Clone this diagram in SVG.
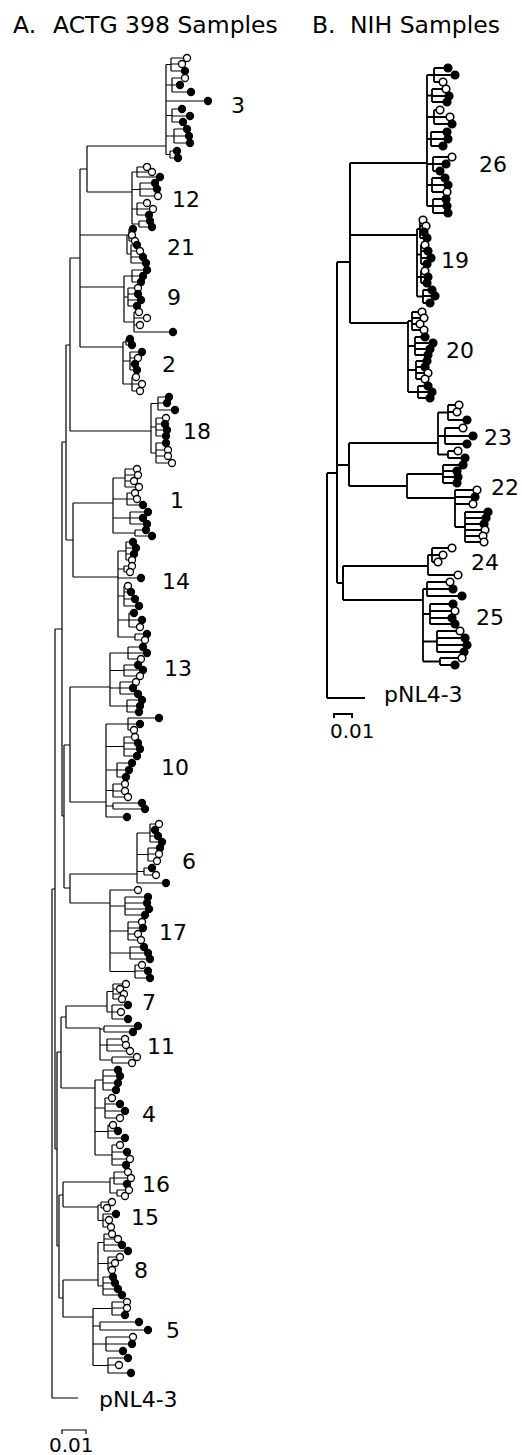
<svg xmlns="http://www.w3.org/2000/svg" xmlns:xlink="http://www.w3.org/1999/xlink" width="522" height="1455" viewBox="0 0 522 1455">
<style>
.ln{fill:none;stroke:#000;stroke-width:1.2}
.lb2{fill:none;stroke:#000;stroke-width:2}
.lnB{fill:none;stroke:#000;stroke-width:1.8}
text{font-family:"DejaVu Sans","Liberation Sans",sans-serif;fill:#000}
.lb{font-size:22px}
.tt{font-size:23.5px}
</style>
<defs>
<circle id="o" r="3.5" fill="#fff" stroke="#000" stroke-width="1.3"/>
<circle id="f" r="3.5" fill="#000" stroke="#000" stroke-width="1.3"/>
<circle id="O" r="3.8" fill="#fff" stroke="#000" stroke-width="1.6"/>
<circle id="F" r="3.8" fill="#000" stroke="#000" stroke-width="1.6"/>
</defs>
<rect width="522" height="1455" fill="#fff"/>
<g id="titles">
<text class="tt" x="13" y="33">A.</text><text class="tt" x="53" y="33">ACTG 398 Samples</text>
<text class="tt" x="312" y="33">B.</text><text class="tt" x="350" y="33">NIH Samples</text>
</g>
<g id="connectors">
<path class="ln" d="M87 146V192 M87 146H166 M87 192H132 M80 169H87 M80 169V347 M80 235H127 M80 287H124 M80 347H123 M70 258V431 M70 258H80 M70 431H151 M66 345V540 M66 345H70 M73 503V577 M66 540H73 M73 503H113 M73 577H118 M62 442V816 M62 442H66 M70 687V802 M70 687H110 M70 802H106 M64 745H70 M70 874V903 M70 874H137 M70 903H110 M64 888H70 M64 745V888 M62 816H64 M66 1006V1028 M66 1006H107 M66 1028H100 M61 1017H66 M61 1017V1088 M61 1088H95 M63 1182V1207 M63 1182H110 M63 1207H98 M59 1195H63 M63 1280V1317 M63 1280H98 M63 1317H93 M59 1298H63 M59 1195V1298 M57 1246H59 M57 1052V1246 M57 1052H61 M55 629V1149 M55 629H62 M55 1149H57 M52 889V1398 M52 889H55 M52 1398H78"/>
<path class="lb2" d="M350 163V323 M350 163H427 M350 235H417 M350 323H408 M337 262V583 M337 262H350 M349 443V486 M349 443H438 M349 486H407 M337 465H349 M343 566V600 M343 566H428 M343 600H423 M337 583H343 M327 473V698 M327 473H337 M327 698H365"/>
</g>
<g id="cA3"><path class="ln" d="M166 64.5V154.5 M166 64.5H171 M171 58V71 M171 58H187 M171 64H182 M171 71H185 M166 85H172 M172 78V92 M172 78H185 M172 85H180 M172 92H191 M166 101H208 M166 115.5H172 M172 109V122 M172 109H182 M172 116H190 M172 122H183 M166 136H174 M174 129V143 M174 129H187 M174 136H189 M174 143H190 M166 154.5H170 M170 151V158 M170 151H177 M170 158H178"/>
<use href="#o" x="187" y="58"/><use href="#o" x="182" y="64"/><use href="#f" x="185" y="71"/><use href="#o" x="185" y="78"/><use href="#f" x="180" y="85"/><use href="#f" x="191" y="92"/><use href="#f" x="208" y="101"/><use href="#f" x="182" y="109"/><use href="#f" x="190" y="116"/><use href="#f" x="183" y="122"/><use href="#f" x="187" y="129"/><use href="#f" x="189" y="136"/><use href="#f" x="190" y="143"/><use href="#f" x="177" y="151"/><use href="#f" x="178" y="158"/>
<text class="lb" x="231" y="113">3</text></g>
<g id="cA12"><path class="ln" d="M132 172V224 M132 172H137 M137 167V177 M137 167H147 M137 172H152 M137 177H160 M132 189.5H140 M140 183V196 M140 183H155 M140 189H157 M140 196H158 M132 209H137 M137 203V215 M137 203H147 M137 209H153 M137 215H149 M132 224H139 M139 221V227 M139 221H150 M139 227H152"/>
<use href="#o" x="147" y="167"/><use href="#o" x="152" y="172"/><use href="#f" x="160" y="177"/><use href="#f" x="155" y="183"/><use href="#f" x="157" y="189"/><use href="#o" x="158" y="196"/><use href="#o" x="147" y="203"/><use href="#o" x="153" y="209"/><use href="#f" x="149" y="215"/><use href="#f" x="150" y="221"/><use href="#f" x="152" y="227"/>
<text class="lb" x="172" y="207">12</text></g>
<g id="cA21"><path class="ln" d="M127 235V254 M127 235H129 M129 229V241 M129 229H133 M129 235H132 M129 241H135 M127 254H131 M131 245V263 M131 245H137 M131 251H140 M131 257H143 M131 263H146"/>
<use href="#f" x="133" y="229"/><use href="#o" x="132" y="235"/><use href="#o" x="135" y="241"/><use href="#f" x="137" y="245"/><use href="#o" x="140" y="251"/><use href="#f" x="143" y="257"/><use href="#f" x="146" y="263"/>
<text class="lb" x="167" y="255">21</text></g>
<g id="cA9"><path class="ln" d="M124 276V322 M124 276H132 M132 270V282 M132 270H147 M132 276H143 M132 282H141 M124 297H128 M128 288V306 M128 288H138 M128 294H138 M128 300H141 M128 306H137 M124 322H134 M134 312V332 M134 312H139 M134 318H147 M134 325H140 M134 332H173"/>
<use href="#f" x="147" y="270"/><use href="#f" x="143" y="276"/><use href="#f" x="141" y="282"/><use href="#o" x="138" y="288"/><use href="#f" x="138" y="294"/><use href="#f" x="141" y="300"/><use href="#f" x="137" y="306"/><use href="#o" x="139" y="312"/><use href="#o" x="147" y="318"/><use href="#o" x="140" y="325"/><use href="#f" x="173" y="332"/>
<text class="lb" x="167" y="305">9</text></g>
<g id="cA2"><path class="ln" d="M123 342V384 M123 342H126 M126 339V345 M126 339H130 M126 345H132 M123 361H130 M130 352V370 M130 352H142 M130 358H138 M130 364H135 M130 370H137 M123 384H132 M132 377V391 M132 377H136 M132 384H142 M132 391H140"/>
<use href="#f" x="130" y="339"/><use href="#f" x="132" y="345"/><use href="#f" x="142" y="352"/><use href="#o" x="138" y="358"/><use href="#f" x="135" y="364"/><use href="#f" x="137" y="370"/><use href="#o" x="136" y="377"/><use href="#o" x="142" y="384"/><use href="#o" x="140" y="391"/>
<text class="lb" x="162" y="372">2</text></g>
<g id="cA18"><path class="ln" d="M151 403.5V453 M151 403.5H158 M158 397V410 M158 397H169 M158 403H167 M158 410H175 M151 427H156 M156 418V436 M156 418H166 M156 424H165 M156 430H167 M156 436H166 M151 453H156 M156 443V463 M156 443H166 M156 450H168 M156 456H168 M156 463H172"/>
<use href="#f" x="169" y="397"/><use href="#f" x="167" y="403"/><use href="#f" x="175" y="410"/><use href="#o" x="166" y="418"/><use href="#f" x="165" y="424"/><use href="#f" x="167" y="430"/><use href="#f" x="166" y="436"/><use href="#f" x="166" y="443"/><use href="#o" x="168" y="450"/><use href="#o" x="168" y="456"/><use href="#o" x="172" y="463"/>
<text class="lb" x="183" y="439">18</text></g>
<g id="cA1"><path class="ln" d="M113 478V533 M113 478H125 M125 469V487 M125 469H137 M125 475H138 M125 481H134 M125 487H139 M113 499H127 M127 493V505 M127 493H135 M127 499H137 M127 505H143 M113 518H130 M130 512V524 M130 512H148 M130 518H143 M130 524H147 M113 533H135 M135 530V536 M135 530H146 M135 536H152"/>
<use href="#o" x="137" y="469"/><use href="#o" x="138" y="475"/><use href="#o" x="134" y="481"/><use href="#o" x="139" y="487"/><use href="#o" x="135" y="493"/><use href="#o" x="137" y="499"/><use href="#f" x="143" y="505"/><use href="#f" x="148" y="512"/><use href="#f" x="143" y="518"/><use href="#f" x="147" y="524"/><use href="#f" x="146" y="530"/><use href="#f" x="152" y="536"/>
<text class="lb" x="170" y="508">1</text></g>
<g id="cA14"><path class="ln" d="M118 551V637 M118 551H126 M126 542V560 M126 542H133 M126 548H136 M126 554H134 M126 560H132 M118 569H124 M124 566V572 M124 566H132 M124 572H130 M118 578H141 M118 596H124 M124 586V606 M124 586H128 M124 592H131 M124 599H135 M124 606H139 M118 620H129 M129 613V627 M129 613H134 M129 620H142 M129 627H140 M118 637H135 M135 634V640 M135 634H147 M135 640H145"/>
<use href="#f" x="133" y="542"/><use href="#f" x="136" y="548"/><use href="#f" x="134" y="554"/><use href="#o" x="132" y="560"/><use href="#o" x="132" y="566"/><use href="#o" x="130" y="572"/><use href="#f" x="141" y="578"/><use href="#o" x="128" y="586"/><use href="#f" x="131" y="592"/><use href="#f" x="135" y="599"/><use href="#f" x="139" y="606"/><use href="#f" x="134" y="613"/><use href="#f" x="142" y="620"/><use href="#o" x="140" y="627"/><use href="#f" x="147" y="634"/><use href="#o" x="145" y="640"/>
<text class="lb" x="162" y="589">14</text></g>
<g id="cA13"><path class="ln" d="M110 653V706 M110 653H128 M128 647V659 M128 647H143 M128 653H147 M128 659H141 M110 670.5H124 M124 665V676 M124 665H138 M124 670H143 M124 676H140 M110 688H120 M120 682V694 M120 682H136 M120 688H133 M120 694H138 M110 706H127 M127 700V712 M127 700H142 M127 706H140 M127 712H139"/>
<use href="#f" x="143" y="647"/><use href="#f" x="147" y="653"/><use href="#o" x="141" y="659"/><use href="#f" x="138" y="665"/><use href="#f" x="143" y="670"/><use href="#o" x="140" y="676"/><use href="#o" x="136" y="682"/><use href="#f" x="133" y="688"/><use href="#f" x="138" y="694"/><use href="#f" x="142" y="700"/><use href="#f" x="140" y="706"/><use href="#f" x="139" y="712"/>
<text class="lb" x="164" y="676">13</text></g>
<g id="cA10"><path class="ln" d="M106 724V817 M106 724H128 M128 718V730 M128 718H159 M128 724H140 M128 730H134 M106 746.5H124 M124 737V756 M124 737H135 M124 743H138 M124 749H140 M124 756H137 M106 770H117 M117 763V777 M117 763H132 M117 770H129 M117 777H126 M106 790.5H113 M113 784V797 M113 784H125 M113 791H125 M113 797H128 M106 806H113 M113 803V809 M113 803H142 M113 809H145 M106 817H127"/>
<use href="#f" x="159" y="718"/><use href="#f" x="140" y="724"/><use href="#o" x="134" y="730"/><use href="#o" x="135" y="737"/><use href="#f" x="138" y="743"/><use href="#f" x="140" y="749"/><use href="#f" x="137" y="756"/><use href="#f" x="132" y="763"/><use href="#f" x="129" y="770"/><use href="#f" x="126" y="777"/><use href="#o" x="125" y="784"/><use href="#o" x="125" y="791"/><use href="#o" x="128" y="797"/><use href="#f" x="142" y="803"/><use href="#f" x="145" y="809"/><use href="#f" x="127" y="817"/>
<text class="lb" x="161" y="775">10</text></g>
<g id="cA6"><path class="ln" d="M137 833V883 M137 833H150 M150 824V842 M150 824H159 M150 830H155 M150 836H158 M150 842H162 M137 854.5H148 M148 848V861 M148 848H160 M148 854H159 M148 861H157 M137 871.5H144 M144 868V875 M144 868H152 M144 875H156 M137 883H166"/>
<use href="#o" x="159" y="824"/><use href="#f" x="155" y="830"/><use href="#f" x="158" y="836"/><use href="#f" x="162" y="842"/><use href="#f" x="160" y="848"/><use href="#o" x="159" y="854"/><use href="#o" x="157" y="861"/><use href="#f" x="152" y="868"/><use href="#o" x="156" y="875"/><use href="#f" x="166" y="883"/>
<text class="lb" x="182" y="869">6</text></g>
<g id="cA17"><path class="ln" d="M110 890V971.5 M110 890H138 M110 906H125 M125 897V915 M125 897H148 M125 903H147 M125 909H149 M125 915H145 M110 931H128 M128 922V940 M128 922H142 M128 928H143 M128 934H138 M128 940H141 M110 953H130 M130 947V959 M130 947H144 M130 953H148 M130 959H150 M110 971.5H135 M135 965V978 M135 965H142 M135 971H148 M135 978H150"/>
<use href="#o" x="138" y="890"/><use href="#f" x="148" y="897"/><use href="#f" x="147" y="903"/><use href="#f" x="149" y="909"/><use href="#f" x="145" y="915"/><use href="#o" x="142" y="922"/><use href="#f" x="143" y="928"/><use href="#o" x="138" y="934"/><use href="#o" x="141" y="940"/><use href="#f" x="144" y="947"/><use href="#f" x="148" y="953"/><use href="#f" x="150" y="959"/><use href="#o" x="142" y="965"/><use href="#f" x="148" y="971"/><use href="#f" x="150" y="978"/>
<text class="lb" x="159" y="940">17</text></g>
<g id="cA7"><path class="ln" d="M107 991.5V1012 M107 991.5H113 M113 984V999 M113 984H126 M113 989H120 M113 994H124 M113 999H122 M107 1012H112 M112 1005V1019 M112 1005H128 M112 1012H121 M112 1019H128"/>
<use href="#o" x="126" y="984"/><use href="#o" x="120" y="989"/><use href="#o" x="124" y="994"/><use href="#o" x="122" y="999"/><use href="#f" x="128" y="1005"/><use href="#o" x="121" y="1012"/><use href="#f" x="128" y="1019"/>
<text class="lb" x="142" y="1010">7</text></g>
<g id="cA11"><path class="ln" d="M100 1028V1060 M100 1029H104 M104 1026V1032 M104 1026H138 M104 1032H133 M100 1045H107 M107 1039V1051 M107 1039H125 M107 1045H126 M107 1051H130 M100 1060H112 M112 1057V1063 M112 1057H137 M112 1063H132"/>
<use href="#f" x="138" y="1026"/><use href="#f" x="133" y="1032"/><use href="#o" x="125" y="1039"/><use href="#o" x="126" y="1045"/><use href="#o" x="130" y="1051"/><use href="#o" x="137" y="1057"/><use href="#o" x="132" y="1063"/>
<text class="lb" x="147" y="1054">11</text></g>
<g id="cA4"><path class="ln" d="M95 1080V1155 M95 1080H103 M103 1070V1090 M103 1070H118 M103 1076H120 M103 1083H118 M103 1090H116 M95 1108H105 M105 1098V1118 M105 1098H112 M105 1104H120 M105 1111H125 M105 1118H120 M95 1131.5H108 M108 1125V1138 M108 1125H113 M108 1131H118 M108 1138H125 M95 1155H112 M112 1145V1165 M112 1145H120 M112 1152H127 M112 1159H130 M112 1165H126"/>
<use href="#f" x="118" y="1070"/><use href="#f" x="120" y="1076"/><use href="#f" x="118" y="1083"/><use href="#f" x="116" y="1090"/><use href="#o" x="112" y="1098"/><use href="#f" x="120" y="1104"/><use href="#f" x="125" y="1111"/><use href="#o" x="120" y="1118"/><use href="#o" x="113" y="1125"/><use href="#f" x="118" y="1131"/><use href="#f" x="125" y="1138"/><use href="#o" x="120" y="1145"/><use href="#f" x="127" y="1152"/><use href="#o" x="130" y="1159"/><use href="#f" x="126" y="1165"/>
<text class="lb" x="142" y="1122">4</text></g>
<g id="cA16"><path class="ln" d="M110 1178V1193 M110 1178H114 M114 1172V1184 M114 1172H128 M114 1178H131 M114 1184H127 M110 1193H117 M117 1190V1196 M117 1190H129 M117 1196H125"/>
<use href="#o" x="128" y="1172"/><use href="#o" x="131" y="1178"/><use href="#f" x="127" y="1184"/><use href="#o" x="129" y="1190"/><use href="#o" x="125" y="1196"/>
<text class="lb" x="142" y="1192">16</text></g>
<g id="cA15"><path class="ln" d="M98 1205V1220.5 M98 1205H101 M101 1202V1208 M101 1202H112 M101 1208H107 M98 1220.5H103 M103 1214V1227 M103 1214H116 M103 1220H109 M103 1227H111"/>
<use href="#o" x="112" y="1202"/><use href="#o" x="107" y="1208"/><use href="#f" x="116" y="1214"/><use href="#o" x="109" y="1220"/><use href="#o" x="111" y="1227"/>
<text class="lb" x="131" y="1225">15</text></g>
<g id="cA8"><path class="ln" d="M98 1242.5V1286 M98 1242.5H104 M104 1234V1251 M104 1234H112 M104 1239H118 M104 1245H122 M104 1251H128 M98 1263.5H108 M108 1257V1270 M108 1257H120 M108 1263H115 M108 1270H112 M98 1286H103 M103 1277V1295 M103 1277H113 M103 1283H115 M103 1289H118 M103 1295H122"/>
<use href="#o" x="112" y="1234"/><use href="#o" x="118" y="1239"/><use href="#f" x="122" y="1245"/><use href="#f" x="128" y="1251"/><use href="#o" x="120" y="1257"/><use href="#o" x="115" y="1263"/><use href="#o" x="112" y="1270"/><use href="#f" x="113" y="1277"/><use href="#f" x="115" y="1283"/><use href="#f" x="118" y="1289"/><use href="#f" x="122" y="1295"/>
<text class="lb" x="134" y="1278">8</text></g>
<g id="cA5"><path class="ln" d="M93 1308.5V1365.5 M93 1308.5H112 M112 1302V1315 M112 1302H127 M112 1308H127 M112 1315H125 M93 1326H100 M100 1322V1330 M100 1322H139 M100 1330H148 M93 1344H106 M106 1337V1351 M106 1337H133 M106 1344H132 M106 1351H123 M93 1365.5H108 M108 1358V1373 M108 1358H128 M108 1365H119 M108 1373H131"/>
<use href="#o" x="127" y="1302"/><use href="#o" x="127" y="1308"/><use href="#f" x="125" y="1315"/><use href="#f" x="139" y="1322"/><use href="#f" x="148" y="1330"/><use href="#o" x="133" y="1337"/><use href="#f" x="132" y="1344"/><use href="#f" x="123" y="1351"/><use href="#f" x="128" y="1358"/><use href="#o" x="119" y="1365"/><use href="#f" x="131" y="1373"/>
<text class="lb" x="166" y="1338">5</text></g>
<g id="outA"><text class="lb" x="99" y="1407">pNL4-3</text></g>
<g id="scaleA"><path class="ln" d="M62 1434V1430H86V1434"/><text class="lb" x="49" y="1452" style="font-size:20px">0.01</text></g>
<g id="cB26"><path class="lnB" d="M427 75V206 M427 75H434 M434 68V82 M434 68H448 M434 75H455 M434 82H443 M427 95.5H432 M432 89V102 M432 89H446 M432 96H449 M432 102H447 M427 117H434 M434 110V124 M434 110H440 M434 117H450 M434 124H452 M427 139H431 M431 132V146 M431 132H447 M431 139H448 M431 146H443 M427 164H433 M433 157V171 M433 157H452 M433 164H446 M433 171H440 M427 185H432 M432 178V192 M432 178H445 M432 185H448 M432 192H447 M427 206H433 M433 199V213 M433 199H446 M433 206H447 M433 213H448"/>
<use href="#F" x="448" y="68"/><use href="#F" x="455" y="75"/><use href="#O" x="443" y="82"/><use href="#O" x="446" y="89"/><use href="#F" x="449" y="96"/><use href="#F" x="447" y="102"/><use href="#O" x="440" y="110"/><use href="#O" x="450" y="117"/><use href="#F" x="452" y="124"/><use href="#F" x="447" y="132"/><use href="#F" x="448" y="139"/><use href="#F" x="443" y="146"/><use href="#O" x="452" y="157"/><use href="#F" x="446" y="164"/><use href="#F" x="440" y="171"/><use href="#F" x="445" y="178"/><use href="#F" x="448" y="185"/><use href="#O" x="447" y="192"/><use href="#F" x="446" y="199"/><use href="#F" x="447" y="206"/><use href="#F" x="448" y="213"/>
<text class="lb" x="479" y="172">26</text></g>
<g id="cB19"><path class="lnB" d="M417 229V296.5 M417 229H420 M420 220V238 M420 220H423 M420 226H426 M420 232H424 M420 238H427 M417 254.5H421 M421 245V264 M421 245H425 M421 251H428 M421 258H431 M421 264H427 M417 277H421 M421 271V283 M421 271H425 M421 277H428 M421 283H427 M417 296.5H423 M423 290V303 M423 290H432 M423 296H435 M423 303H430"/>
<use href="#O" x="423" y="220"/><use href="#O" x="426" y="226"/><use href="#F" x="424" y="232"/><use href="#F" x="427" y="238"/><use href="#O" x="425" y="245"/><use href="#F" x="428" y="251"/><use href="#F" x="431" y="258"/><use href="#F" x="427" y="264"/><use href="#O" x="425" y="271"/><use href="#F" x="428" y="277"/><use href="#F" x="427" y="283"/><use href="#F" x="432" y="290"/><use href="#F" x="435" y="296"/><use href="#F" x="430" y="303"/>
<text class="lb" x="441" y="268">19</text></g>
<g id="cB20"><path class="lnB" d="M408 321V392 M408 321H412 M412 312V330 M412 312H422 M412 318H424 M412 324H420 M412 330H424 M408 346H415 M415 337V355 M415 337H425 M415 343H433 M415 349H430 M415 355H428 M408 370H416 M416 361V379 M416 361H427 M416 367H425 M416 373H428 M416 379H425 M408 392H418 M418 386V398 M418 386H428 M418 392H432 M418 398H430"/>
<use href="#O" x="422" y="312"/><use href="#O" x="424" y="318"/><use href="#O" x="420" y="324"/><use href="#O" x="424" y="330"/><use href="#F" x="425" y="337"/><use href="#F" x="433" y="343"/><use href="#F" x="430" y="349"/><use href="#F" x="428" y="355"/><use href="#F" x="427" y="361"/><use href="#F" x="425" y="367"/><use href="#O" x="428" y="373"/><use href="#O" x="425" y="379"/><use href="#F" x="428" y="386"/><use href="#F" x="432" y="392"/><use href="#F" x="430" y="398"/>
<text class="lb" x="446" y="358">20</text></g>
<g id="cB23"><path class="lnB" d="M438 412.5V454.5 M438 412.5H448 M448 405V420 M448 405H459 M448 412H457 M448 420H467 M438 436H445 M445 428V444 M445 428H463 M445 436H473 M445 444H467 M438 454.5H448 M448 451V458 M448 451H458 M448 458H465"/>
<use href="#O" x="459" y="405"/><use href="#O" x="457" y="412"/><use href="#F" x="467" y="420"/><use href="#O" x="463" y="428"/><use href="#F" x="473" y="436"/><use href="#F" x="467" y="444"/><use href="#O" x="458" y="451"/><use href="#F" x="465" y="458"/>
<text class="lb" x="484" y="445">23</text></g>
<g id="cB22"><path class="lnB" d="M407 474V498 M407 474H443 M443 465V483 M443 465H463 M443 471H457 M443 477H458 M443 483H457 M407 498H455 M455 490V527 M455 490H477 M455 497H475 M455 504H473 M455 527H465 M465 512V542 M465 512H488 M465 518H486 M465 524H484 M465 530H485 M465 536H483 M465 542H484"/>
<use href="#F" x="463" y="465"/><use href="#F" x="457" y="471"/><use href="#F" x="458" y="477"/><use href="#F" x="457" y="483"/><use href="#O" x="477" y="490"/><use href="#F" x="475" y="497"/><use href="#O" x="473" y="504"/><use href="#F" x="488" y="512"/><use href="#F" x="486" y="518"/><use href="#F" x="484" y="524"/><use href="#O" x="485" y="530"/><use href="#O" x="483" y="536"/><use href="#O" x="484" y="542"/>
<text class="lb" x="491" y="495">22</text></g>
<g id="cB24"><path class="lnB" d="M428 555V575 M428 555H432 M432 548V562 M432 548H452 M432 555H443 M432 562H438 M428 575H458"/>
<use href="#O" x="452" y="548"/><use href="#O" x="443" y="555"/><use href="#O" x="438" y="562"/><use href="#O" x="458" y="575"/>
<text class="lb" x="471" y="570">24</text></g>
<g id="cB25"><path class="lnB" d="M423 589V661.5 M423 589H427 M427 582V596 M427 582H450 M427 589H453 M427 596H462 M423 614H430 M430 604V624 M430 604H453 M430 611H455 M430 618H452 M430 624H455 M423 641.5H437 M437 631V652 M437 631H460 M437 638H465 M437 645H467 M437 652H464 M423 661.5H440 M440 658V665 M440 658H462 M440 665H455"/>
<use href="#O" x="450" y="582"/><use href="#F" x="453" y="589"/><use href="#F" x="462" y="596"/><use href="#F" x="453" y="604"/><use href="#O" x="455" y="611"/><use href="#F" x="452" y="618"/><use href="#F" x="455" y="624"/><use href="#O" x="460" y="631"/><use href="#F" x="465" y="638"/><use href="#F" x="467" y="645"/><use href="#F" x="464" y="652"/><use href="#O" x="462" y="658"/><use href="#F" x="455" y="665"/>
<text class="lb" x="476" y="625">25</text></g>
<g id="outB"><text class="lb" x="384" y="702">pNL4-3</text></g>
<g id="scaleB"><path class="lb2" d="M334 718V714H352V718"/><text class="lb" x="330" y="738" style="font-size:20px">0.01</text></g>
</svg>
